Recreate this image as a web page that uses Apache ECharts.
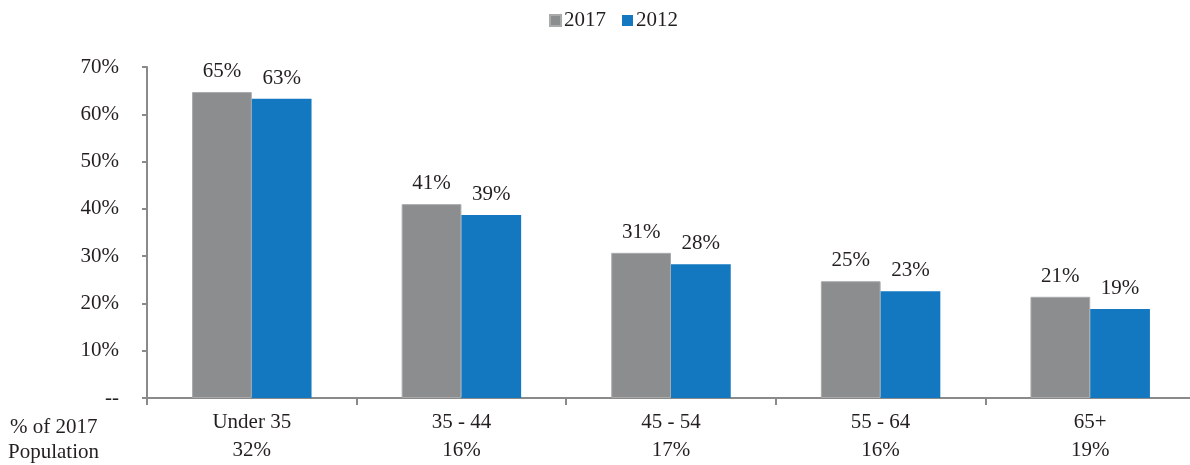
<!DOCTYPE html>
<html>
<head>
<meta charset="utf-8">
<script src="https://cdn.jsdelivr.net/npm/echarts@6/dist/echarts.min.js"></script>
<style>html,body{margin:0;padding:0;background:#fff;overflow:hidden;}#c{width:1200px;height:465px;}</style>
</head>
<body>
<div id="c"></div>
<script>
const categories = ['Under 35', '35 - 44', '45 - 54', '55 - 64', '65+'];
const popShare = ['32%', '16%', '17%', '16%', '19%'];
const series2017 = [64.7, 41.0, 30.7, 24.7, 21.4];
const series2012 = [63.3, 38.7, 28.3, 22.6, 18.8];
const seriesNames = ['2017', '2012'];
const yTicks = [0, 10, 20, 30, 40, 50, 60, 70];

const FONT = '"Liberation Serif", "Times New Roman", serif';
const FS = 21;
const TXT = '#231f20';
const chart = echarts.init(document.getElementById('c'), null, {renderer: 'canvas'});
const labelOpt = {
  show: true, position: 'top', distance: 10,
  fontFamily: FONT, fontSize: FS, color: TXT,
  formatter: p => Math.round(p.value) + '%'
};
chart.setOption({
  animation: false,
  textStyle: {fontFamily: FONT},
  legend: {
    top: 5, left: 544, itemWidth: 11, itemHeight: 11, itemGap: 16, icon: 'rect',
    textStyle: {fontFamily: FONT, fontSize: FS, color: TXT, padding: [0, 0, 0, -2]},
    data: seriesNames
  },
  grid: {left: 147, top: 67, width: 1048, height: 331, containLabel: false},
  xAxis: {
    type: 'category',
    data: categories,
    axisLine: {lineStyle: {color: '#8a8a8a', width: 2}},
    axisTick: {show: true, length: 7, lineStyle: {color: '#8a8a8a', width: 2}},
    axisLabel: {
      margin: 10, fontFamily: FONT, fontSize: FS, color: TXT, lineHeight: 28,
      formatter: (v, i) => v + '\n' + popShare[i]
    }
  },
  yAxis: {
    type: 'value', min: 0, max: 70, interval: 10,
    splitLine: {show: false},
    axisLine: {show: true, lineStyle: {color: '#8a8a8a', width: 2}},
    axisTick: {show: true, length: 5, lineStyle: {color: '#8a8a8a', width: 2}},
    axisLabel: {
      margin: 28, fontFamily: FONT, fontSize: FS, color: TXT,
      formatter: v => yTicks.indexOf(v) === 0 ? '--' : v + '%'
    }
  },
  graphic: [
    {type: 'text', left: 10, top: 417, style: {text: '% of 2017', font: FS + 'px ' + FONT, fill: TXT}},
    {type: 'text', left: 8, top: 442, style: {text: 'Population', font: FS + 'px ' + FONT, fill: TXT}}
  ],
  series: [
    {name: seriesNames[0], type: 'bar', data: series2017, barGap: 0, barCategoryGap: '43%',
     itemStyle: {color: '#8c8d8f', borderColor: '#a9aaac', borderWidth: 1}, label: labelOpt},
    {name: seriesNames[1], type: 'bar', data: series2012, barGap: 0, barCategoryGap: '43%',
     itemStyle: {color: '#1478c0'}, label: labelOpt}
  ]
});
</script>
</body>
</html>
